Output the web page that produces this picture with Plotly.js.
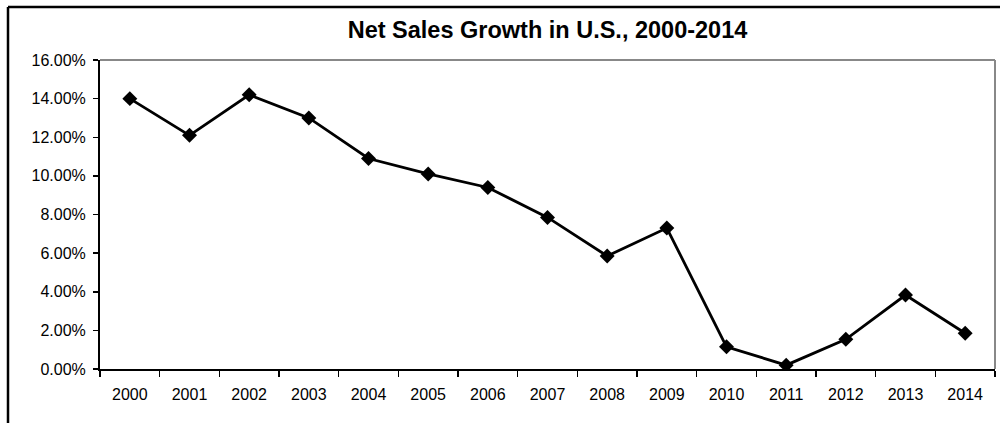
<!DOCTYPE html>
<html>
<head>
<meta charset="utf-8">
<script src="https://cdn.plot.ly/plotly-3.0.1.min.js"></script>
<style>
html,body{margin:0;padding:0;background:#fff;}
#chart{width:1000px;height:423px;}
</style>
</head>
<body>
<div id="chart"></div>
<script>
const years = ["2000","2001","2002","2003","2004","2005","2006","2007","2008","2009","2010","2011","2012","2013","2014"];
const growth = [0.140, 0.121, 0.142, 0.130, 0.109, 0.101, 0.094, 0.0785, 0.0585, 0.073, 0.0115, 0.002, 0.0154, 0.0383, 0.0185];
const yTicks = [0,0.02,0.04,0.06,0.08,0.10,0.12,0.14,0.16];
const chartTitle = "Net Sales Growth in U.S., 2000-2014";

const trace = {
  x: years, y: growth, type: 'scatter', mode: 'lines+markers',
  line: {color: '#000', width: 2.8},
  marker: {symbol: 'diamond', size: 11.5, color: '#000'},
  hoverinfo: 'x+y'
};

const layout = {
  width: 1000, height: 423,
  margin: {l: 100, r: 5, t: 60, b: 54},
  paper_bgcolor: '#fff', plot_bgcolor: '#fff',
  showlegend: false,
  font: {family: 'Liberation Sans, Arial, sans-serif', size: 16, color: '#000'},
  title: {text: '<b>' + chartTitle + '</b>', font: {size: 23.5, color: '#000', family: 'Liberation Sans, Arial, sans-serif'},
          x: 0.5, xref: 'paper', xanchor: 'center', y: 1 - 30/423, yref: 'container', yanchor: 'middle'},
  xaxis: {
    type: 'category', range: [-0.5, years.length - 0.5], tickson: 'boundaries', ticks: 'outside', ticklen: 6, tickwidth: 1.5, tickcolor: '#000',
    showline: true, linecolor: '#000', linewidth: 2, showgrid: false, zeroline: false,
    tickfont: {size: 16}, ticklabelstandoff: 10, fixedrange: true
  },
  yaxis: {
    range: [0, 0.16], tickvals: yTicks, tickformat: '.2%', ticks: 'outside', ticklen: 5, tickwidth: 1.5, tickcolor: '#000',
    showline: true, linecolor: '#000', linewidth: 2, showgrid: false, zeroline: false,
    tickfont: {size: 16}, ticklabelstandoff: 4, fixedrange: true
  },
  shapes: [
    {type: 'line', xref: 'paper', yref: 'paper', x0: 0, x1: 1, y0: 1, y1: 1, line: {color: '#888', width: 2}, layer: 'below'},
    {type: 'line', xref: 'paper', yref: 'paper', x0: 1, x1: 1, y0: 0, y1: 1, line: {color: '#888', width: 2}, layer: 'below'},
    {type: 'line', xref: 'paper', yref: 'paper', x0: (8-100)/895, x1: 1.2, y0: (369-7)/309, y1: (369-7)/309, line: {color: '#000', width: 2.5}},
    {type: 'line', xref: 'paper', yref: 'paper', x0: (8-100)/895, x1: (8-100)/895, y0: (369-7)/309, y1: -0.3, line: {color: '#000', width: 2.5}}
  ]
};

Plotly.newPlot('chart', [trace], layout, {displayModeBar: false, staticPlot: true});
</script>
</body>
</html>
